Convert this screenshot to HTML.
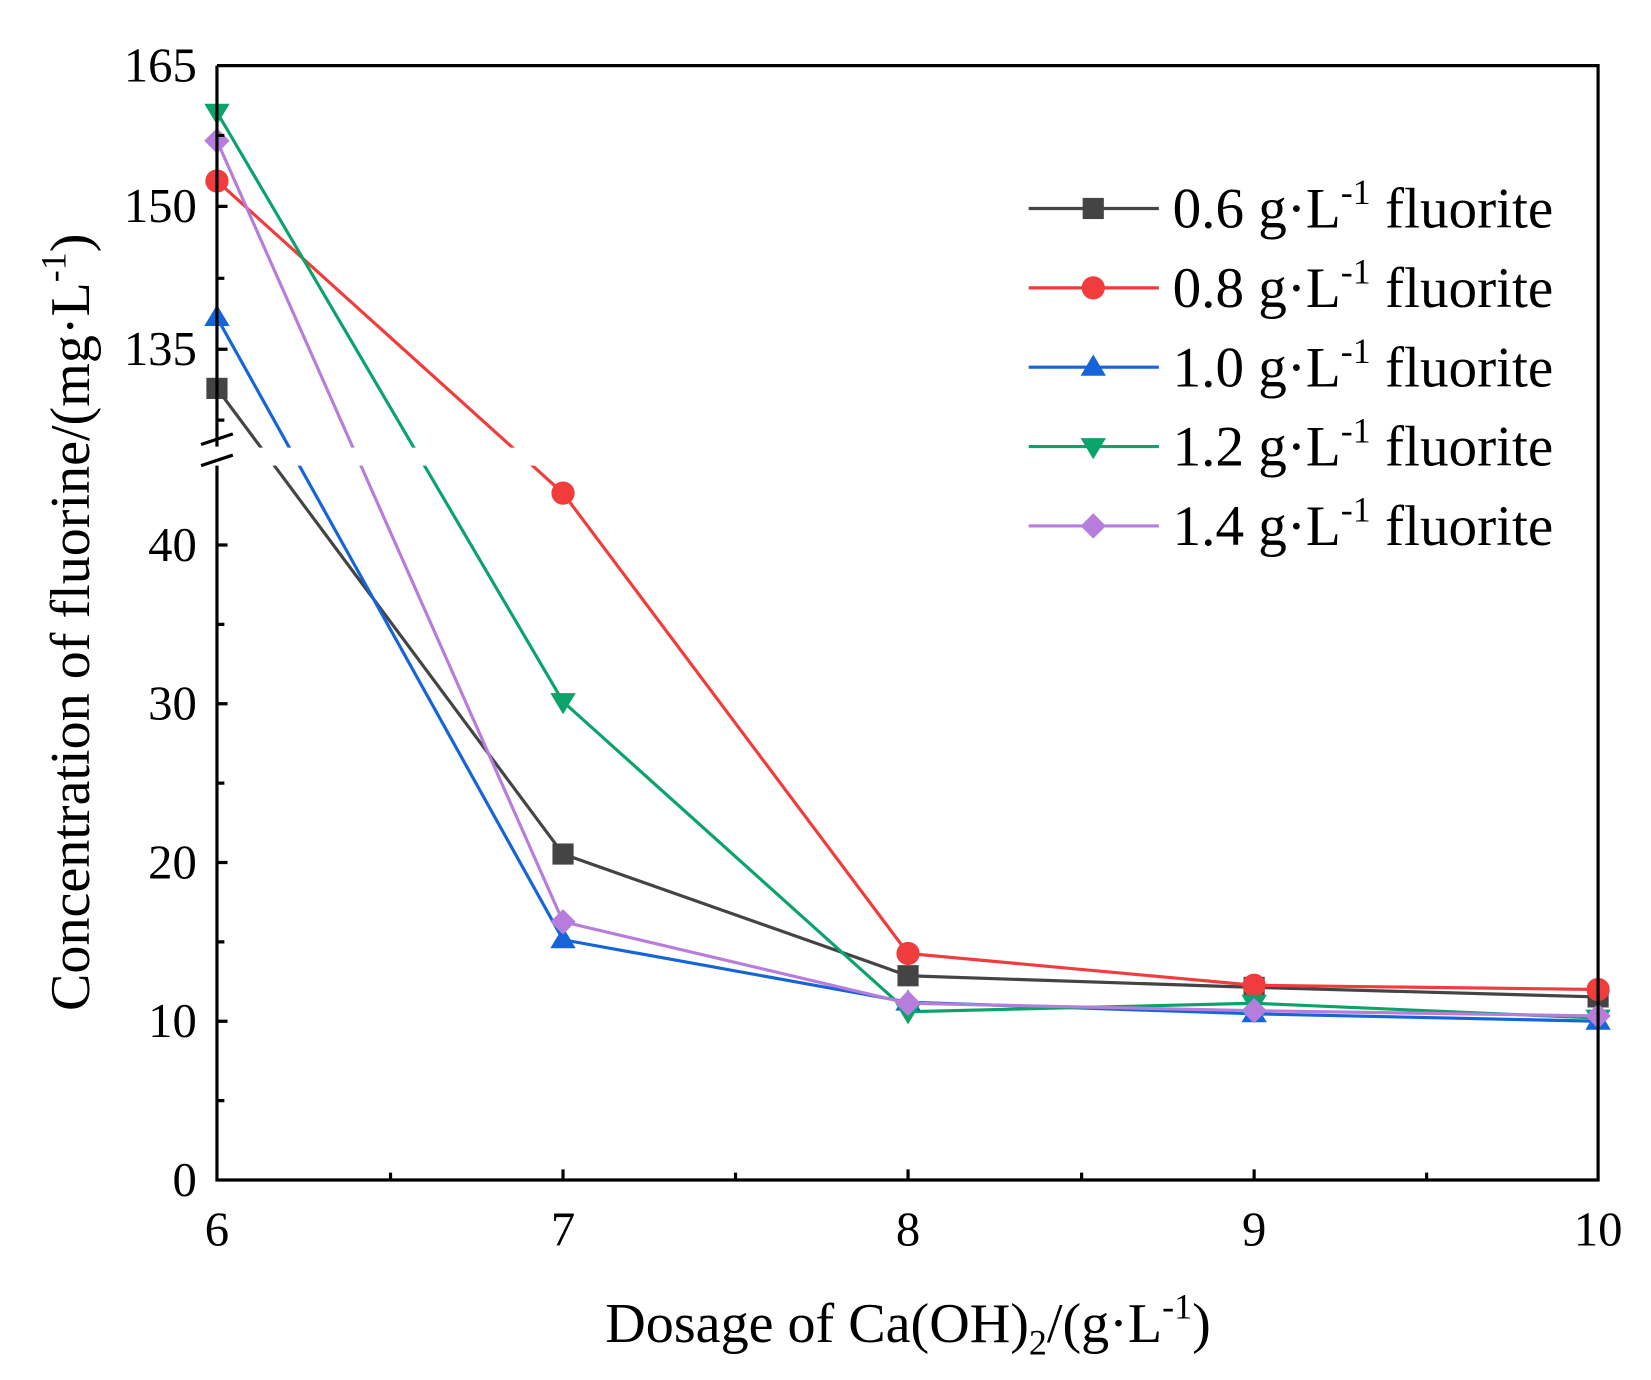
<!DOCTYPE html>
<html><head><style>body{margin:0;background:#fff}svg{display:block}</style></head><body>
<svg width="1651" height="1380" viewBox="0 0 1560 1304" preserveAspectRatio="none" xmlns="http://www.w3.org/2000/svg" font-family="Liberation Serif, serif">
<g fill="none" stroke-width="3">
<polyline stroke="#444" points="205,367 532,807 858,922 1185,933 1510,942"/>
<polyline stroke="#f03c3c" points="205,171 532,466 858,901 1185,931 1510,935"/>
<polyline stroke="#1565d8" points="205,300 532,888 858,947 1185,958 1510,965"/>
<polyline stroke="#0aa36a" points="205,106 532,663 858,956 1185,948 1510,962"/>
<polyline stroke="#b77ddc" points="205,133 532,871 858,948 1185,955 1510,960"/>
</g>
<rect x="207" y="423" width="1300" height="17" fill="#fff"/>
<g fill="#444"><rect x="195" y="357" width="20" height="20"/><rect x="522" y="797" width="20" height="20"/><rect x="848" y="912" width="20" height="20"/><rect x="1175" y="923" width="20" height="20"/><rect x="1500" y="932" width="20" height="20"/></g>
<g fill="#f03c3c"><circle cx="205" cy="171" r="11"/><circle cx="532" cy="466" r="11"/><circle cx="858" cy="901" r="11"/><circle cx="1185" cy="931" r="11"/><circle cx="1510" cy="935" r="11"/></g>
<g fill="#1565d8"><path d="M205,288l12,20h-24z"/><path d="M532,876l12,20h-24z"/><path d="M858,935l12,20h-24z"/><path d="M1185,946l12,20h-24z"/><path d="M1510,953l12,20h-24z"/></g>
<g fill="#0aa36a"><path d="M205,118l12,-20h-24z"/><path d="M532,675l12,-20h-24z"/><path d="M858,968l12,-20h-24z"/><path d="M1185,960l12,-20h-24z"/><path d="M1510,974l12,-20h-24z"/></g>
<g fill="#b77ddc"><path d="M205,121l12,12l-12,12l-12,-12z"/><path d="M532,859l12,12l-12,12l-12,-12z"/><path d="M858,936l12,12l-12,12l-12,-12z"/><path d="M1185,943l12,12l-12,12l-12,-12z"/><path d="M1510,948l12,12l-12,12l-12,-12z"/></g>
<g stroke="#000" stroke-width="3" fill="none">
<path d="M205,62H1510V1115H205V440M205,422V62"/>
<path d="M190,420l30,-10M190,440l30,-10"/>
<path d="M205,965h10M205,815h10M205,665h10M205,515h10M205,1040h7M205,890h7M205,740h7M205,590h7M205,195h10M205,330h10M205,263h7M205,128h7M205,397h7"/>
<path d="M532,1115v-10M858,1115v-10M1185,1115v-10M369,1115v-7M695,1115v-7M1022,1115v-7M1348,1115v-7"/>
</g>
<g font-size="46" text-anchor="end">
<text x="186" y="1130">0</text><text x="186" y="980">10</text><text x="186" y="830">20</text><text x="186" y="680">30</text><text x="186" y="530">40</text><text x="186" y="345">135</text><text x="186" y="210">150</text><text x="186" y="77">165</text>
</g>
<g font-size="46" text-anchor="middle">
<text x="205" y="1177">6</text><text x="532" y="1177">7</text><text x="858" y="1177">8</text><text x="1185" y="1177">9</text><text x="1510" y="1177">10</text>
</g>
<text x="858" y="1268" font-size="53" text-anchor="middle">Dosage of Ca(OH)<tspan font-size="34" dy="12">2</tspan><tspan dy="-12">/(g·L</tspan><tspan font-size="34" dy="-22">-1</tspan><tspan dy="22">)</tspan></text>
<text transform="translate(84,588) rotate(-90)" font-size="53" text-anchor="middle">Concentration of fluorine/(mg·L<tspan font-size="34" dy="-22">-1</tspan><tspan dy="22">)</tspan></text>
<g stroke-width="3">
<line x1="972" y1="197" x2="1095" y2="197" stroke="#444"/><rect x="1023" y="187" width="20" height="20" fill="#444"/>
<line x1="972" y1="272" x2="1095" y2="272" stroke="#f03c3c"/><circle cx="1033" cy="272" r="11" fill="#f03c3c"/>
<line x1="972" y1="347" x2="1095" y2="347" stroke="#1565d8"/><path d="M1033,335l12,20h-24z" fill="#1565d8"/>
<line x1="972" y1="422" x2="1095" y2="422" stroke="#0aa36a"/><path d="M1033,434l12,-20h-24z" fill="#0aa36a"/>
<line x1="972" y1="497" x2="1095" y2="497" stroke="#b77ddc"/><path d="M1033,485l12,12l-12,12l-12,-12z" fill="#b77ddc"/>
</g>
<g font-size="54">
<text x="1108" y="215">0.6 g·L<tspan font-size="34" dy="-22">-1</tspan><tspan dy="22"> fluorite</tspan></text>
<text x="1108" y="290">0.8 g·L<tspan font-size="34" dy="-22">-1</tspan><tspan dy="22"> fluorite</tspan></text>
<text x="1108" y="365">1.0 g·L<tspan font-size="34" dy="-22">-1</tspan><tspan dy="22"> fluorite</tspan></text>
<text x="1108" y="440">1.2 g·L<tspan font-size="34" dy="-22">-1</tspan><tspan dy="22"> fluorite</tspan></text>
<text x="1108" y="515">1.4 g·L<tspan font-size="34" dy="-22">-1</tspan><tspan dy="22"> fluorite</tspan></text>
</g>
</svg>
</body></html>
